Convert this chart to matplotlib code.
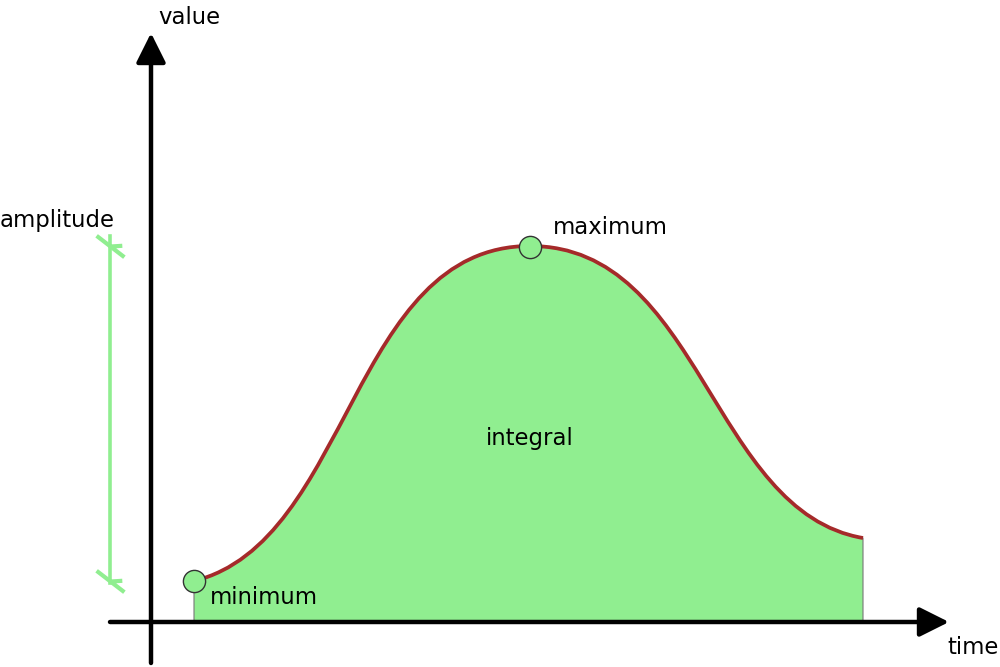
import matplotlib
matplotlib.use("Agg")
import matplotlib.pyplot as plt
from matplotlib.path import Path
from matplotlib.patches import PathPatch

# curve read off the picture as bezier nodes and handles (time, value),
# origin at the axes crossing
curve_t = [43, 200, 200, 379, 550, 560, 712]
curve_v = [41, 80, 376, 376, 376, 110, 84]

t_min, v_min = 43, 41
t_max, v_max = 379, 376

labels = {"value": "value", "time": "time", "amp": "amplitude",
          "max": "maximum", "min": "minimum", "int": "integral"}

green = "#90ee90"
brown = "#a52a2a"

fig = plt.figure(figsize=(10, 6.67), dpi=100)
ax = fig.add_axes([0, 0, 1, 1])
ax.set_xlim(-151, 849)
ax.set_ylim(-45, 622)
ax.axis("off")

verts = list(zip(curve_t, curve_v))
codes = [Path.MOVETO] + [Path.CURVE4] * (len(verts) - 1)

# area under the curve
fverts = verts + [(curve_t[-1], 0), (curve_t[0], 0), verts[0]]
fcodes = codes + [Path.LINETO, Path.LINETO, Path.CLOSEPOLY]
ax.add_patch(PathPatch(Path(fverts, fcodes), facecolor=green,
                       edgecolor="#777777", lw=0.8, zorder=1))
ax.add_patch(PathPatch(Path(verts, codes), fill=False, edgecolor=brown,
                       lw=2.7, capstyle="butt", zorder=3))

# axes with arrow heads
arrow = dict(arrowstyle="-|>,head_length=1.0,head_width=0.5", lw=3.2,
             color="black", shrinkA=0, shrinkB=0, mutation_scale=18)
ax.annotate("", xy=(798, 0), xytext=(-41, 0), arrowprops=arrow, zorder=4)
ax.annotate("", xy=(0, 589), xytext=(0, -41), arrowprops=arrow, zorder=4)

# min / max points
ax.plot([t_min, t_max], [v_min, v_max - 1], "o", ms=16, mfc=green,
        mec="#333333", mew=1, zorder=5)

# amplitude bar
tick = Path([(-1, 0.77), (1, -0.77), (0, 0), (0.85, 0.05)],
            [Path.MOVETO, Path.LINETO, Path.MOVETO, Path.LINETO])
ax.plot([-41.5, -41.5], [v_min - 2, v_max + 10], color=green, lw=2.6)
ax.plot([-41.5, -41.5], [v_min, v_max], ls="none", marker=tick, ms=20,
        mec=green, mew=3)

fs = 16.4
ax.text(7, 604, labels["value"], fontsize=fs, va="center", ha="left")
ax.text(796, -26, labels["time"], fontsize=fs, va="center", ha="left")
ax.text(-151, 402, labels["amp"], fontsize=fs, va="center", ha="left")
ax.text(402, 394, labels["max"], fontsize=fs, va="center", ha="left")
ax.text(59, 25, labels["min"], fontsize=fs, va="center", ha="left")
ax.text(379, 184, labels["int"], fontsize=fs, va="center", ha="center")

fig.savefig("out.png", dpi=100)
